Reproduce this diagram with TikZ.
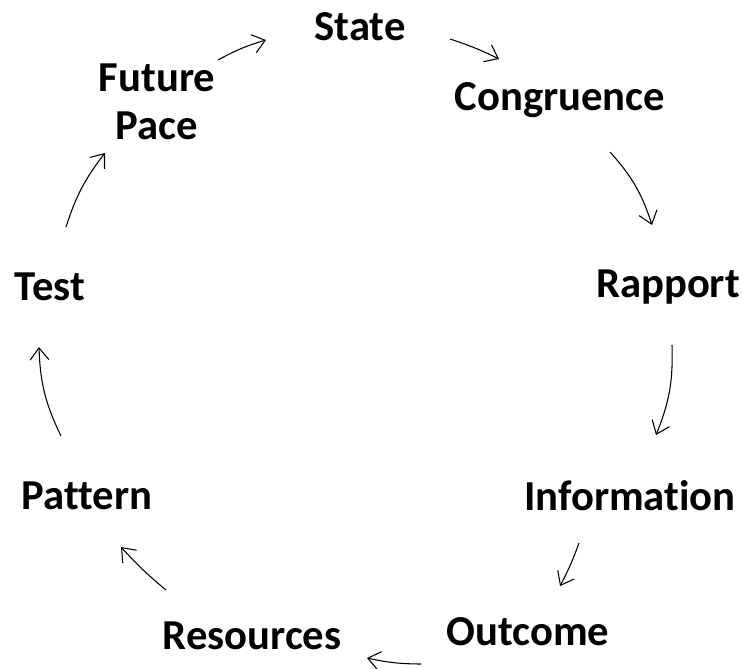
\documentclass[tikz,border=0pt]{standalone}
\usepackage{fontspec}
\setmainfont{Carlito}[Ligatures=NoCommon]
\usetikzlibrary{arrows.meta}
\begin{document}
\begin{tikzpicture}[x=0.75pt,y=-0.75pt,
  lbl/.style={font=\fontsize{32}{36}\selectfont\bfseries, inner sep=0pt, align=center},
  arr/.style={line width=0.8pt, -{Straight Barb[length=9pt,width=14pt,line width=0.8pt]}}]
\useasboundingbox (0,0) rectangle (743,668);
\node[lbl] (state) at (360,27) {State};
\node[lbl] (cong) at (560,100) {Congruence};
\node[lbl] (rapport) at (668,287) {Rapport};
\node[lbl] (info) at (630,496) {Information};
\node[lbl] (outcome) at (528,632) {Outcome};
\node[lbl] (res) at (252,636) {Resources};
\node[lbl] (pattern) at (87,496) {Pattern};
\node[lbl] (test) at (50,287) {Test};
\node[lbl] (future) at (157,102) {Future\\Pace};
% arrow end points
\coordinate (a1) at (218,60);  \coordinate (b1) at (266,40);
\coordinate (a2) at (450,39);  \coordinate (b2) at (499,59);
\coordinate (a3) at (610,152); \coordinate (b3) at (652,225);
\coordinate (a4) at (672,345); \coordinate (b4) at (656,435);
\coordinate (a5) at (579,543); \coordinate (b5) at (560,586);
\coordinate (a6) at (421,664); \coordinate (b6) at (367,658);
\coordinate (a7) at (166,590); \coordinate (b7) at (121,547);
\coordinate (a8) at (61,436);  \coordinate (b8) at (39,347);
\coordinate (a9) at (66,227);  \coordinate (b9) at (105,153);
\draw[arr] (a1) to[bend left=6] (b1);
\draw[arr] (a2) to[bend left=4] (b2);
\draw[arr] (a3) to[bend left=12] (b3);
\draw[arr] (a4) to[bend left=12] (b4);
\draw[arr] (a5) to[bend left=4] (b5);
\draw[arr] (a6) to[bend left=6] (b6);
\draw[arr] (a7) to[bend left=4] (b7);
\draw[arr] (a8) to[bend left=12] (b8);
\draw[arr] (a9) to[bend left=10] (b9);
\end{tikzpicture}
\end{document}
